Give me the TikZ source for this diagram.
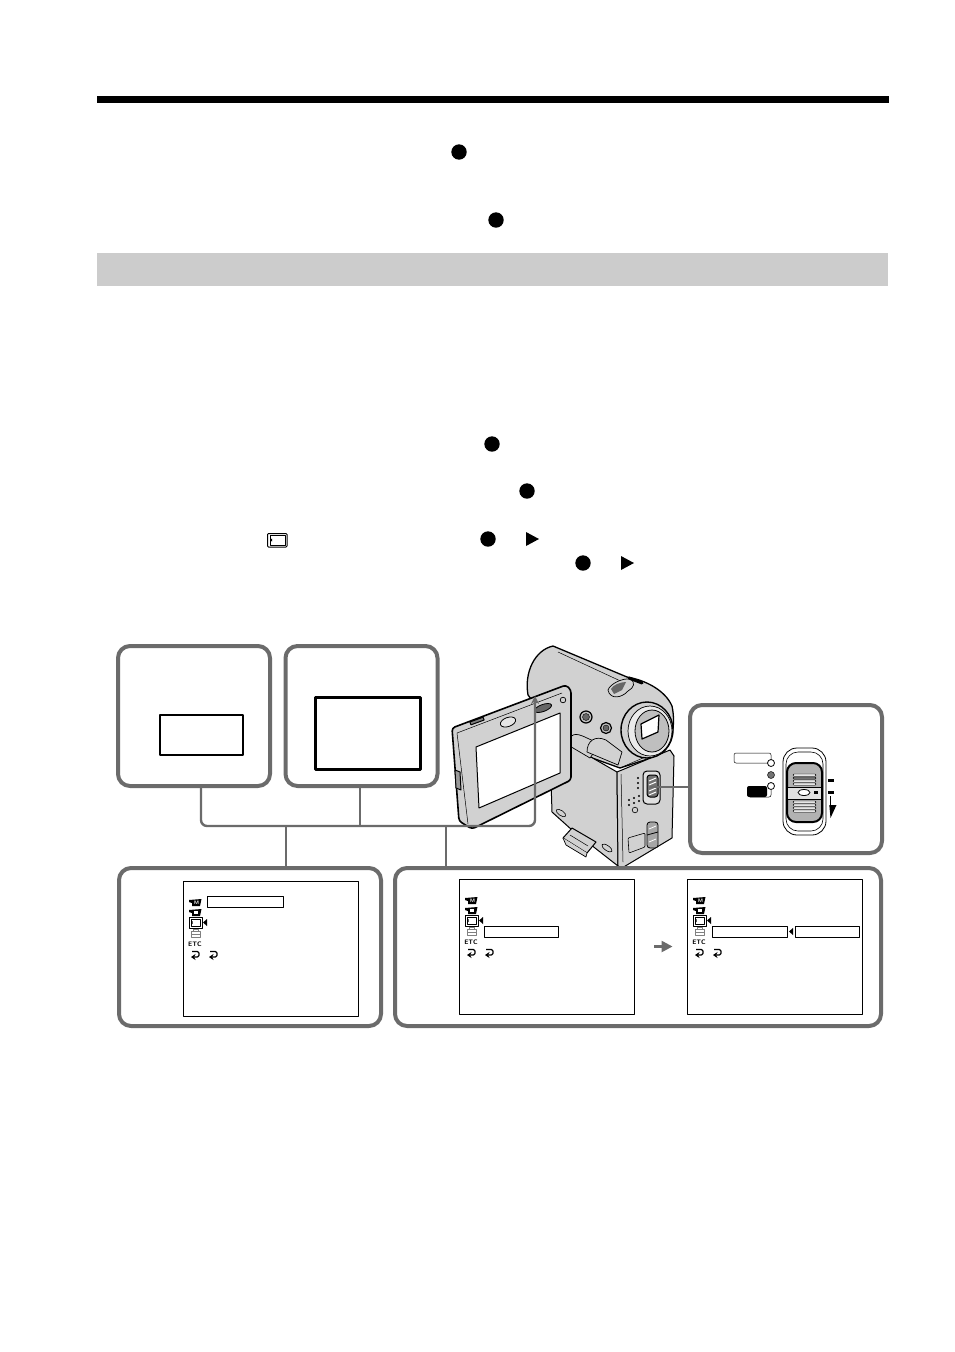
\documentclass[tikz,border=0pt]{standalone}
\usetikzlibrary{arrows.meta}
\definecolor{framegray}{gray}{0.42}
\definecolor{camgray}{gray}{0.82}
\tikzset{
	frame/.style={draw=framegray,line width=4pt,rounded corners=12pt,inner sep=0pt},
	conn/.style={draw=framegray,line width=2.4pt},
	screen/.style={draw,line width=0.9pt,inner sep=0pt,minimum width=175pt,minimum height=135pt},
	bar/.style={draw,line width=0.9pt,inner sep=0pt,minimum height=11pt},
	cam/.style={draw,fill=camgray,line width=1pt,line join=round},
	menuicons/.pic={
		% camera M
		\fill (-6,19) -- (6.5,18) -- (5,25) -- (-3,25) -- (-3,22) -- (-6,21) -- cycle;
		\node[text=white,inner sep=0pt,font=\sffamily\bfseries\fontsize{5}{5}\selectfont] (-m) at (1.5,21.5) {M};
		% tape
		\fill (-6,29) -- (6.5,28) -- (5,35) -- (-3,35) -- (-3,32) -- (-6,31) -- cycle;
		\fill[white] (-1,30) rectangle (3,33);
		% card
		\draw[line width=1pt] (-6,36) rectangle (7,47);
		\draw[line width=0.7pt,fill=white] (-4,38) rectangle (5,45);
		\fill (-4,41.5) -- (-2.5,40) -- (-2.5,43) -- cycle;
		\fill (12,38) -- (12,45) -- (8,41.5) -- cycle;
		% tool box
		\draw[gray,line width=0.7pt] (-4,50) rectangle (5,56);
		\draw[gray,line width=0.7pt] (-2,50) -- (-2,48) -- (3,48) -- (3,50);
		\draw[gray,line width=0.7pt] (-4,53) -- (5,53);
		\node[inner sep=0pt,font=\sffamily\bfseries\fontsize{6.5}{7}\selectfont] (-etc) at (0,63) {ETC};
		% return marks
		\foreach \r in {0,18}
			\draw[line width=1.1pt,rounded corners=1.5pt,-{Stealth[length=4.5pt,width=6pt]}] (\r-3,70.5) -- (\r+4,70.5) -- (\r+4,76) -- (\r-4,76);
	}
}
\begin{document}
\begin{tikzpicture}[x=1pt,y=-1pt,line join=round,>=stealth]
	\useasboundingbox (0,0) rectangle (954,1352);
	\fill (97,96) rectangle (889,103);
	\fill[black!20] (97,253) rectangle (888,286);
	% marks standing in the text
	\foreach \x/\y in {459/152,496/220,492/444,527/491,488/539,583/563}
		\fill (\x,\y) circle(7.7pt);
	\foreach \x/\y in {526/539,621/563}
		\fill (\x,\y-7) -- (\x+13,\y) -- (\x,\y+7) -- cycle;
	\draw[line width=1pt,rounded corners=1pt] (267.5,533.5) rectangle (287,547);
	\draw[line width=0.5pt] (270,535.5) rectangle (285,545);
	\fill (270,540) -- (272,538.5) -- (272,541.5) -- cycle;

	% camera, back part
	\draw[cam,line width=1.3pt] (528,695) .. controls (524,672) and (535,650) .. (553,646) -- (627,677)
		.. controls (645,680) and (665,690) .. (672,706) .. controls (676,725) and (672,745) .. (660,755)
		-- (620,768) -- (570,750) -- cycle;
	\draw[line width=0.5pt] (558,652) -- (627,684);
	\draw[cam] (570,745) -- (617,772) -- (618,866) -- (572,830) -- (552,812) -- (551,780) -- cycle;
	\draw[cam] (617,772) -- (670,750) -- (674,756) -- (672,838) -- (622,868) -- (618,866) -- cycle;
	\draw[line width=0.5pt] (620,768) -- (668,747);
	\draw[line width=0.5pt] (621,774) -- (623,862);
	% ridges above the body
	\draw[cam,line width=0.7pt] (568,745) .. controls (570,733) and (575,732) .. (587,738) -- (600,744) -- (590,758) -- cycle;
	\draw[cam,line width=0.7pt] (587,752) .. controls (587,741) and (595,735) .. (606,740) -- (622,752) -- (618,765) -- cycle;
	% buttons
	\foreach \x/\y/\r in {586/717/6,606/728/5.5}{
		\draw[fill=black!25,line width=1.2pt] (\x,\y) circle(\r pt);
		\draw[fill=black!60,line width=0.4pt] (\x,\y) circle(\r pt-2.5pt);
	}
	% microphone
	\draw[cam,line width=0.7pt] (608,690) .. controls (610,684) and (622,678) .. (630,679) .. controls (636,682) and (634,688) .. (628,691) .. controls (622,698) and (610,700) .. (608,690) -- cycle;
	\fill[black!60] (611,689) .. controls (613,685) and (620,682) .. (626,682) -- (622,690) -- (614,694) -- cycle;
	\draw[line width=3pt,line cap=round] (629,678) -- (642,683);
	% lens
	\draw[cam,line width=1.4pt] (647,730) ellipse (26pt and 28pt);
	\draw[fill=black!8,line width=0.7pt] (650,731) ellipse (22pt and 25pt);
	\draw[fill=black!25,line width=0.8pt] (652,731) ellipse (17pt and 21pt);
	\draw[fill=white,line width=1.2pt] (641,724) -- (659,715) -- (658,732) -- (642,739) -- cycle;
	% switch on the side
	\draw[fill=black!12,line width=1pt,rounded corners=4pt] (643,771) rectangle (660,804);
	\draw[fill=black!55,line width=1pt,rounded corners=3pt] (647,775) rectangle (658,797);
	\draw[white,line width=1pt] (649,781) -- (656,778) (649,785) -- (656,782) (649,791) -- (656,788) (649,795) -- (656,792);
	\draw[fill=black!35,line width=0.8pt,rounded corners=3pt] (647,822) rectangle (658,848);
	\draw[line width=0.8pt] (647,835) -- (658,832);
	\draw[white,line width=0.8pt] (649,829) -- (656,826) (649,842) -- (656,839);
	\foreach \x/\y in {638/778,638/783,638/788,629/800,634/798,639/796,629/805,634/803,639/801}
		\fill (\x,\y) circle(1.2pt);
	\draw[line width=0.6pt] (635,810) circle(2.8pt);
	\draw[line width=0.6pt,rounded corners=1pt] (628,838) -- (645,833) -- (645,847) -- (629,853) -- cycle;
	% foot and slots under the body
	\draw[cam] (563,838) -- (572,828) -- (596,842) -- (587,853) -- cycle;
	\draw[cam,line width=0.7pt] (563,838) -- (566,845) -- (586,857) -- (587,853);
	\draw[line width=0.5pt] (570,835) -- (588,846);
	\draw[line width=0.6pt,rotate around={-35:(561,813)}] (561,813) ellipse (5.5pt and 2.5pt);
	\draw[line width=0.6pt,rotate around={-35:(607,848)}] (607,848) ellipse (6pt and 2.5pt);

	% monitor
	\draw[cam,line width=1.6pt,rounded corners=3pt] (452,728) -- (566,685) -- (571,690) -- (571,780) -- (472,829) -- (459,821) -- cycle;
	\draw[line width=0.5pt] (457,733) -- (562,693) (457,733) -- (468,824);
	\draw[fill=white,line width=1pt] (476,747) -- (560,713) -- (560,773) -- (479,808) -- cycle;
	\draw[line width=0.8pt,fill=black!10,rotate around={20:(508,722)}] (508,722) ellipse (8pt and 4.5pt);
	\draw[line width=0.8pt,fill=black!60,rotate around={20:(543,708)}] (543,708) ellipse (9pt and 3.5pt);
	\draw[line width=1pt,fill=black!50,rotate around={20:(477,721)}] (470,719.5) rectangle (484,722.5);
	\draw[line width=0.7pt] (563,700) circle(2.8pt);
	\draw[line width=1pt,fill=black!40] (455,770) -- (460,772) -- (461,790) -- (456,788) -- cycle;

	% frames
	\node[frame,minimum width=152pt,minimum height=140pt] (boxa) at (194,716) {};
	\node[frame,minimum width=152pt,minimum height=140pt] (boxb) at (361.5,716) {};
	\node[frame,minimum width=192pt,minimum height=148pt] (boxc) at (786,779) {};
	\node[frame,minimum width=262pt,minimum height=158pt] (boxd) at (250,947) {};
	\node[frame,minimum width=486pt,minimum height=158pt] (boxe) at (638,947) {};

	\node[draw,line width=2pt,inner sep=0pt,minimum width=83pt,minimum height=40pt] (viewa) at (201,734.5) {};
	\node[draw,line width=3pt,inner sep=0pt,minimum width=105pt,minimum height=72pt] (viewb) at (368,733.5) {};

	% connectors
	\coordinate (busl) at (201,826);
	\coordinate (busr) at (535,826);
	\coordinate (moni) at (535,696);
	\coordinate (switchpt) at (650,787);
	\draw[conn,rounded corners=6pt,-{Stealth[length=8pt,width=8pt]}] (boxa.south -| busl) -- (busl) -- (busr) -- (moni);
	\draw[conn] (boxb.south -| 360,0) -- (360,826);
	\draw[conn] (286,826) -- (boxd.north -| 286,0);
	\draw[conn,line width=1.8pt] (446,826) -- (boxe.north -| 446,0);
	\draw[conn] (boxc.west |- switchpt) -- (switchpt);

	% screens
	\node[screen] (screena) at (270.5,949) {};
	\node[screen] (screenb) at (546.5,946.5) {};
	\node[screen] (screenc) at (774.5,946.5) {};
	\pic (menua) at (195,881) {menuicons};
	\pic (menub) at (471,879) {menuicons};
	\pic (menuc) at (699,879) {menuicons};
	\node[bar,minimum width=76pt] (titlea) at (245,902) {};
	\node[bar,minimum width=74pt] (titleb) at (521,931.5) {};
	\node[bar,minimum width=75pt] (titlec) at (749.5,931.5) {};
	\node[bar,minimum width=64pt] (valuec) at (827,931.5) {};
	\fill (793,928) -- (793,935) -- (789,931.5) -- cycle;
	\draw[draw=framegray,line width=2.4pt,shorten <=20pt,shorten >=14pt,-{Stealth[length=11pt,width=11pt,inset=0pt]}] (screenb) -- (screenc);

	% switch detail
	\draw[line width=0.8pt,rounded corners=14pt] (783,748) rectangle (826,835);
	\draw[line width=0.6pt,rounded corners=12pt] (786,752) rectangle (823,831);
	\draw[fill=black!30,line width=2pt,rounded corners=9pt] (787,763) rectangle (822,822);
	\fill[black!12] (788,788) rectangle (821,799);
	\draw[line width=0.5pt] (788,787) -- (821,787) (788,799) -- (821,799);
	\foreach \y/\c in {774/black!10,777/black!55,780/black!10,783/black!10,801/black!10,804/black!10,807/black!10,810/black!10}
		\draw[fill=\c,line width=0.4pt,rounded corners=1pt] (793,\y) rectangle (816,\y+2.2);
	\draw[fill=white,line width=0.8pt] (804,792.5) ellipse (6pt and 3pt);
	\fill (814,791) rectangle (818,794);
	\fill (828,779) rectangle (834,781.5);
	\fill (828,791) rectangle (834,793.5);
	\draw[line width=0.8pt] (830,796) -- (830,808);
	\fill (829.3,805) -- (836.5,805) -- (830.5,818) -- cycle;
	\draw[line width=0.5pt,rounded corners=2pt] (771,760) -- (771,753) -- (734,753) -- (734,763) -- (768,763);
	\draw[line width=0.5pt,rounded corners=2pt] (771,790) -- (771,797) -- (750,797);
	\fill[rounded corners=2pt] (747,786) rectangle (767,797);
	\draw[fill=white,line width=0.8pt] (771,763) circle(3.5pt);
	\draw[fill=black!55,line width=0.5pt] (771,775) circle(3.5pt);
	\draw[fill=white,line width=0.8pt] (771,786) circle(3.5pt);
\end{tikzpicture}
\end{document}
